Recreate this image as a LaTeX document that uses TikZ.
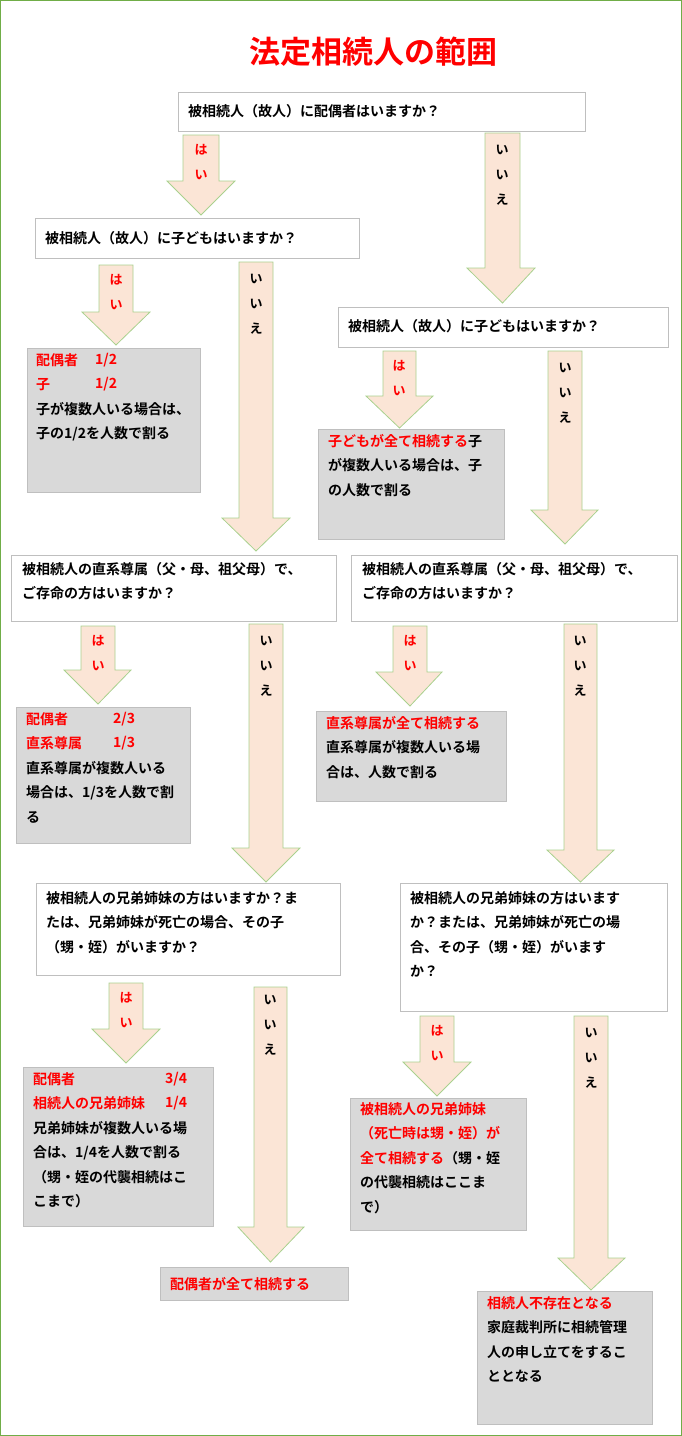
\documentclass[tikz,border=0pt]{standalone}
\usepackage{fontspec}
\setmainfont{Noto Sans CJK JP Bold}
\definecolor{rd}{HTML}{FF0000}
\definecolor{pe}{HTML}{FBE5D6}
\definecolor{gr}{HTML}{A9D18E}
\definecolor{og}{HTML}{70AD47}
\definecolor{gb}{HTML}{D9D9D9}
\definecolor{bd}{HTML}{BFBFBF}
\newcommand{\barrow}[8]{%
 \draw[gr,fill=pe,line width=0.8pt] (#1,#3)--(#2,#3)--(#2,#5)--(#7,#5)--({(#1+#2)/2},#8)--(#6,#5)--(#1,#5)--cycle;}
\newcommand{\hai}[3]{\node[lab,rd] at ({#1},{#2+15}) {は};\node[lab,rd] at ({#1},{#2+40}) {い};}
\newcommand{\iie}[2]{\node[lab] at ({#1},{#2+17}) {い};\node[lab] at ({#1},{#2+42}) {い};\node[lab] at ({#1},{#2+67}) {え};}
\begin{document}
\begin{tikzpicture}[x=1pt,y=-1pt,
 lab/.style={font=\fontsize{13}{13}\selectfont,inner sep=0pt},
 qbox/.style={draw=bd,fill=white,line width=0.8pt},
 rbox/.style={draw=bd,fill=gb,line width=0.8pt},
 tx/.style={anchor=north west,inner sep=0pt,align=left,font=\fontsize{14}{24.5}\selectfont},
 t1/.style={anchor=west,inner sep=0pt,font=\fontsize{14}{15}\selectfont}]
\useasboundingbox (0,0) rectangle (682,1436);
\draw[og,line width=1pt] (0.5,0.5) rectangle (681.5,1435.5);
\node[rd,font=\fontsize{31}{33}\selectfont] (title) at (373,52) {法定相続人の範囲};
% arrows
\barrow{183}{219}{135}{181}{181}{167}{235}{215}
\barrow{485}{520}{133}{268}{268}{467}{535}{303}
\barrow{99}{133}{265}{312}{312}{82}{150}{345}
\barrow{239}{273}{262}{518}{518}{222}{290}{551}
\barrow{383}{416}{351}{396}{396}{366}{433}{428}
\barrow{548}{582}{351}{510}{510}{531}{598}{544}
\barrow{81}{115}{626}{670}{670}{64}{131}{704}
\barrow{249}{283}{624}{848}{848}{232}{300}{882}
\barrow{393}{427}{626}{672}{672}{376}{442}{706}
\barrow{564}{597}{624}{850}{850}{547}{614}{882}
\barrow{109}{143}{983}{1029}{1029}{92}{160}{1063}
\barrow{254}{287}{987}{1227}{1227}{238}{304}{1262}
\barrow{420}{454}{1016}{1062}{1062}{403}{471}{1096}
\barrow{574}{608}{1016}{1258}{1258}{558}{625}{1290}
\hai{201}{135}{}\iie{502}{133}
\hai{116}{265}{}\iie{256}{262}
\hai{399}{351}{}\iie{565}{351}
\hai{98}{626}{}\iie{266}{624}
\hai{410}{626}{}\iie{580}{624}
\hai{126}{983}{}\iie{270}{983}
\hai{437}{1016}{}\iie{591}{1016}
% question boxes
\draw[qbox] (178,92) rectangle (585,131);
\node[t1] (q1) at (188,111) {被相続人（故人）に配偶者はいますか？};
\draw[qbox] (35,218) rectangle (359,258);
\node[t1] (q2) at (45,238) {被相続人（故人）に子どもはいますか？};
\draw[qbox] (338,307) rectangle (668,347);
\node[t1] (q3) at (348,326) {被相続人（故人）に子どもはいますか？};
\draw[qbox] (11,555) rectangle (336,621);
\node[tx] (q4) at (22,562) {被相続人の直系尊属（父・母、祖父母）で、\\ご存命の方はいますか？};
\draw[qbox] (351,555) rectangle (677,621);
\node[tx] (q5) at (362,562) {被相続人の直系尊属（父・母、祖父母）で、\\ご存命の方はいますか？};
\draw[qbox] (36,883) rectangle (340,975);
\node[tx] (q6) at (46,891) {被相続人の兄弟姉妹の方はいますか？ま\\たは、兄弟姉妹が死亡の場合、その子\\（甥・姪）がいますか？};
\draw[qbox] (400,883) rectangle (667,1011);
\node[tx] (q7) at (410,891) {被相続人の兄弟姉妹の方はいます\\か？または、兄弟姉妹が死亡の場\\合、その子（甥・姪）がいます\\か？};
% result boxes
\draw[rbox] (27,348) rectangle (200,492);
\node[tx] (r1) at (36,353) {\textcolor{rd}{配偶者}\\\textcolor{rd}{子}\\子が複数人いる場合は、\\子の1/2を人数で割る};
\node[tx,rd] (r1b) at (95,353) {1/2\\1/2};
\draw[rbox] (318,429) rectangle (504,539);
\node[tx] (r2) at (328,434) {\textcolor{rd}{子どもが全て相続する}子\\が複数人いる場合は、子\\の人数で割る};
\draw[rbox] (16,707) rectangle (190,843);
\node[tx] (r3) at (26,712) {\textcolor{rd}{配偶者}\\\textcolor{rd}{直系尊属}\\直系尊属が複数人いる\\場合は、1/3を人数で割\\る};
\node[tx,rd] (r3b) at (113,712) {2/3\\1/3};
\draw[rbox] (316,711) rectangle (506,801);
\node[tx] (r4) at (326,716) {\textcolor{rd}{直系尊属が全て相続する}\\直系尊属が複数人いる場\\合は、人数で割る};
\draw[rbox] (23,1067) rectangle (213,1226);
\node[tx] (r5) at (33,1072) {\textcolor{rd}{配偶者}\\\textcolor{rd}{相続人の兄弟姉妹}\\兄弟姉妹が複数人いる場\\合は、1/4を人数で割る\\（甥・姪の代襲相続はこ\\こまで）};
\node[tx,rd] (r5b) at (165,1072) {3/4\\1/4};
\draw[rbox] (350,1098) rectangle (526,1230);
\node[tx] (r6) at (360,1102) {\textcolor{rd}{被相続人の兄弟姉妹}\\\textcolor{rd}{（死亡時は甥・姪）が}\\\textcolor{rd}{全て相続する}（甥・姪\\の代襲相続はここま\\で）};
\draw[rbox] (160,1267) rectangle (348,1300);
\node[t1,rd] (r7) at (170,1284) {配偶者が全て相続する};
\draw[rbox] (477,1291) rectangle (652,1424);
\node[tx] (r8) at (487,1296) {\textcolor{rd}{相続人不存在となる}\\家庭裁判所に相続管理\\人の申し立てをするこ\\ととなる};
\end{tikzpicture}
\end{document}
